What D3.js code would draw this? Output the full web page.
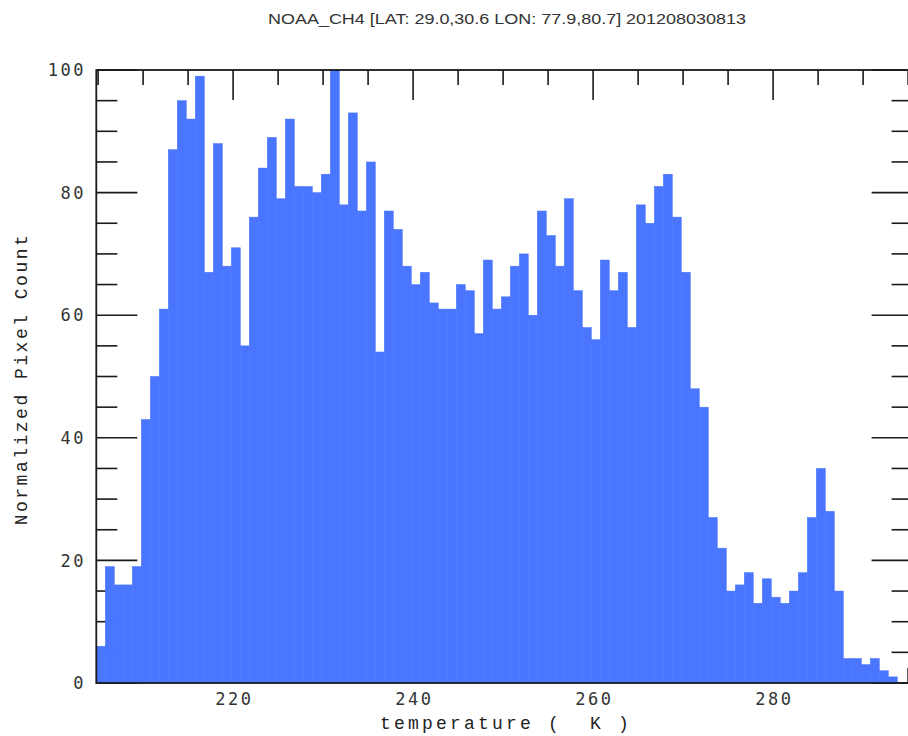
<!DOCTYPE html>
<html>
<head>
<meta charset="utf-8">
<script src="https://cdn.jsdelivr.net/npm/d3@7"></script>
<style>
  html, body { margin: 0; padding: 0; background: #fff; }
  svg { display: block; }
</style>
</head>
<body>
<div id="chart"></div>
<script>
// histogram of channel 4 brightness temperature, 1 K bins
const title = 'NOAA_CH4 [LAT: 29.0,30.6 LON: 77.9,80.7] 201208030813';
const xLabel = 'temperature (  K )';
const yLabel = 'Normalized Pixel Count';

const binStart = 204.8;
const binWidth = 1;
const counts = [
  6, 19, 16, 16, 19, 43, 50, 61, 87, 95,
  92, 99, 67, 88, 68, 71, 55, 76, 84, 89,
  79, 92, 81, 81, 80, 83, 100, 78, 93, 77,
  85, 54, 77, 74, 68, 65, 67, 62, 61, 61,
  65, 64, 57, 69, 61, 63, 68, 70, 60, 77,
  73, 68, 79, 64, 58, 56, 69, 64, 67, 58,
  78, 75, 81, 83, 76, 67, 48, 45, 27, 22,
  15, 16, 18, 13, 17, 14, 13, 15, 18, 27,
  35, 28, 15, 4, 4, 3, 4, 2, 1
];

const xDomain = [204.8, 295.5];
const yDomain = [0, 100];
const xLabelTicks = [220, 240, 260, 280];
const yLabelTicks = [0, 20, 40, 60, 80, 100];

const W = 908, H = 736;
const frame = { l: 96.3, r: 912.6, t: 70, b: 683 };

const svg = d3.select('#chart').append('svg')
  .attr('width', W)
  .attr('height', H);

const x = d3.scaleLinear().domain(xDomain).range([frame.l, frame.r]);
const y = d3.scaleLinear().domain(yDomain).range([frame.b, frame.t]);

const bins = counts.map((c, i) => ({
  x0: binStart + i * binWidth,
  x1: binStart + (i + 1) * binWidth,
  c
}));

// tick marks (drawn under the bars, like the original)
const ticks = svg.append('g')
  .attr('stroke', '#1a1a1a')
  .attr('stroke-width', 1.6);

const xMinor = d3.range(205, 296, 5);
xMinor.forEach(v => {
  const len = v % 20 === 0 ? 30 : 15;
  ticks.append('line')
    .attr('x1', x(v)).attr('x2', x(v))
    .attr('y1', frame.t).attr('y2', frame.t + len);
  ticks.append('line')
    .attr('x1', x(v)).attr('x2', x(v))
    .attr('y1', frame.b).attr('y2', frame.b - len);
});

const yMinor = d3.range(0, 101, 5);
yMinor.forEach(v => {
  const len = v % 20 === 0 ? 41 : 21;
  ticks.append('line')
    .attr('x1', frame.l).attr('x2', frame.l + len)
    .attr('y1', y(v)).attr('y2', y(v));
  ticks.append('line')
    .attr('x1', frame.r).attr('x2', frame.r - len)
    .attr('y1', y(v)).attr('y2', y(v));
});

// bars
svg.append('g')
  .selectAll('rect')
  .data(bins.filter(d => d.c > 0))
  .join('rect')
  .attr('x', d => x(d.x0))
  .attr('width', d => x(d.x1) - x(d.x0))
  .attr('y', d => y(d.c))
  .attr('height', d => y(0) - y(d.c))
  .attr('fill', '#4975ff')
  .attr('stroke', '#4975ff')
  .attr('stroke-width', 0.5);

// frame
svg.append('rect')
  .attr('x', frame.l)
  .attr('y', frame.t)
  .attr('width', frame.r - frame.l)
  .attr('height', frame.b - frame.t)
  .attr('fill', 'none')
  .attr('stroke', '#1a1a1a')
  .attr('stroke-width', 1.8);

// tick labels
svg.append('g')
  .selectAll('text')
  .data(yLabelTicks)
  .join('text')
  .attr('x', 86)
  .attr('y', d => y(d))
  .attr('dy', '0.36em')
  .attr('text-anchor', 'end')
  .attr('font-family', '"DejaVu Sans Mono", monospace')
  .attr('font-size', 17)
  .attr('letter-spacing', 2.5)
  .attr('fill', '#333')
  .text(d => d);

svg.append('g')
  .selectAll('text')
  .data(xLabelTicks)
  .join('text')
  .attr('x', d => x(d) + 1.25)
  .attr('y', 705)
  .attr('text-anchor', 'middle')
  .attr('font-family', '"DejaVu Sans Mono", monospace')
  .attr('font-size', 17)
  .attr('letter-spacing', 2.5)
  .attr('fill', '#333')
  .text(d => d);

// axis titles
svg.append('text')
  .attr('x', 380)
  .attr('y', 729)
  .attr('font-family', '"Liberation Mono", "Courier New", monospace')
  .attr('font-size', 18)
  .attr('letter-spacing', 3.2)
  .attr('fill', '#222')
  .attr('xml:space', 'preserve')
  .style('white-space', 'pre')
  .text(xLabel);

svg.append('text')
  .attr('transform', 'translate(27,379) rotate(-90)')
  .attr('text-anchor', 'middle')
  .attr('font-family', '"Liberation Mono", "Courier New", monospace')
  .attr('font-size', 18)
  .attr('letter-spacing', 2.5)
  .attr('fill', '#222')
  .text(yLabel);

// title
svg.append('text')
  .attr('x', 268)
  .attr('y', 24)
  .attr('font-family', '"Liberation Sans", Arial, sans-serif')
  .attr('font-size', 14)
  .attr('textLength', 478)
  .attr('lengthAdjust', 'spacingAndGlyphs')
  .attr('fill', '#333')
  .text(title);
</script>
</body>
</html>
